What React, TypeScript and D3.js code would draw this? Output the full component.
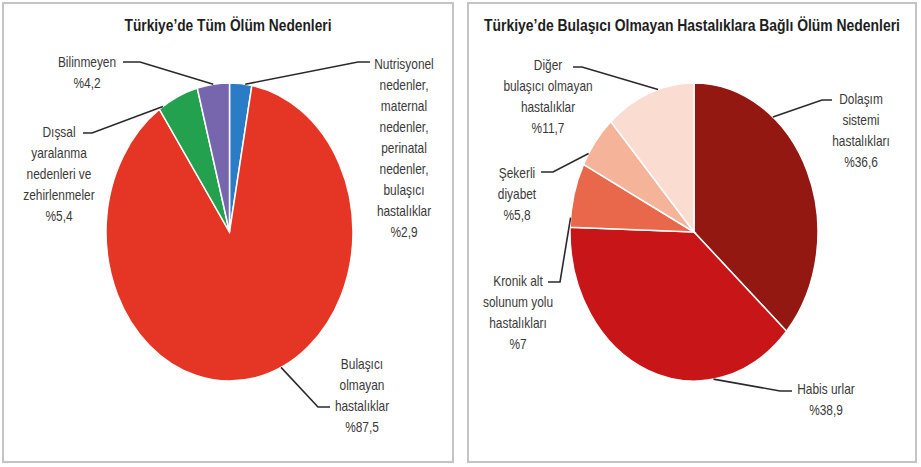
import React from "react";
import * as d3 from "d3";

// left chart: all causes of death (clockwise from 12 o'clock)
const leftCategories = [
  ["Nutrisyonel", "nedenler,", "maternal", "nedenler,", "perinatal", "nedenler,", "bulaşıcı", "hastalıklar"],
  ["Bulaşıcı", "olmayan", "hastalıklar"],
  ["Dışsal", "yaralanma", "nedenleri ve", "zehirlenmeler"],
  ["Bilinmeyen"],
];
const leftValues = [2.9, 87.5, 5.4, 4.2];
const leftValueLabels = ["%2,9", "%87,5", "%5,4", "%4,2"];
const leftColors = ["#2a7cc7", "#e53524", "#24a14e", "#7765ad"];

// right chart: non-communicable diseases
const rightCategories = [
  ["Dolaşım", "sistemi", "hastalıkları"],
  ["Habis urlar"],
  ["Kronik alt", "solunum yolu", "hastalıkları"],
  ["Şekerli", "diyabet"],
  ["Diğer", "bulaşıcı olmayan", "hastalıklar"],
];
const rightValues = [36.6, 38.9, 7, 5.8, 11.7];
const rightValueLabels = ["%36,6", "%38,9", "%7", "%5,8", "%11,7"];
const rightColors = ["#941812", "#c81517", "#e9674a", "#f5b49a", "#fbdcd1"];

const W = 921;
const H = 467;
const font = "'Liberation Sans', Arial, sans-serif";
const squeeze = 0.85; // the original uses a condensed face
const lineGap = 21;

// label placement: text centre x, first line y, where the leader touches the slice (fraction of slice), elbow, tail
type Place = { x: number; y: number; f: number; elbow: [number, number]; tail: [number, number] };

const leftPlaces: Place[] = [
  { x: 404, y: 65, f: 0.7, elbow: [358, 62], tail: [370, 62] },
  { x: 362, y: 365, f: 0.46, elbow: [318, 407], tail: [330, 407] },
  { x: 59, y: 133, f: 0.1, elbow: [92, 133], tail: [83, 133] },
  { x: 87, y: 63, f: 0.5, elbow: [140, 62], tail: [123, 62] },
];
const rightPlaces: Place[] = [
  { x: 861, y: 100, f: 0.3, elbow: [822, 100], tail: [832, 100] },
  { x: 826, y: 390, f: 0.28, elbow: [780, 391], tail: [792, 391] },
  { x: 518, y: 282, f: 0.15, elbow: [560, 282], tail: [548, 282] },
  { x: 517, y: 174, f: 0.23, elbow: [553, 172], tail: [541, 172] },
  { x: 548, y: 66, f: 0.6, elbow: [582, 67], tail: [573, 67] },
];

function Pie(props: {
  title: string;
  titleSqueeze: number;
  frame: [number, number, number, number];
  cx: number;
  cy: number;
  rx: number;
  ry: number;
  categories: string[][];
  values: number[];
  valueLabels: string[];
  colors: string[];
  places: Place[];
}) {
  const { title, titleSqueeze, frame, cx, cy, rx, ry, categories, values, valueLabels, colors, places } = props;
  const arcs = d3.pie<number>().sort(null).value((d) => d)(values);
  const arc = d3.arc<d3.PieArcDatum<number>>().innerRadius(0).outerRadius(rx);
  const onEdge = (a: number): [number, number] => [cx + rx * Math.sin(a), cy - ry * Math.cos(a)];

  return (
    <g>
      <rect x={frame[0]} y={frame[1]} width={frame[2] - frame[0]} height={frame[3] - frame[1]}
        fill="#fff" stroke="#c4c4c4" strokeWidth={2} />
      <text transform={`translate(${(frame[0] + frame[2]) / 2},27) scale(${titleSqueeze},1)`}
        textAnchor="middle" dominantBaseline="middle"
        fontFamily={font} fontWeight="bold" fontSize={16} fill="#1e1e1e">{title}</text>
      <g transform={`translate(${cx},${cy}) scale(1,${ry / rx})`}>
        {arcs.map((a, i) => (
          <path key={i} d={arc(a) || ""} fill={colors[i]} stroke="#fff" strokeWidth={1.5}
            vectorEffect="non-scaling-stroke" />
        ))}
      </g>
      {arcs.map((a, i) => {
        const p = places[i];
        const ang = a.startAngle + p.f * (a.endAngle - a.startAngle);
        const pts = [onEdge(ang), p.elbow, p.tail];
        const lines = [...categories[i], valueLabels[i]];
        return (
          <g key={"l" + i}>
            <path d={d3.line()(pts) || ""} fill="none" stroke="#2a2a2a" strokeWidth={1.6} />
            <text transform={`translate(${p.x},${p.y}) scale(${squeeze},1)`} textAnchor="middle"
              fontFamily={font} fontSize={14} fill="#3a3a3a">
              {lines.map((t, j) => (
                <tspan key={j} x={0} y={j * lineGap} dominantBaseline="middle">{t}</tspan>
              ))}
            </text>
          </g>
        );
      })}
    </g>
  );
}

export default function App() {
  return (
    <svg width={W} height={H} style={{ position: "absolute", left: 0, top: 0, background: "#fff" }}>
      <Pie title="Türkiye’de Tüm Ölüm Nedenleri" titleSqueeze={0.86} frame={[3, 3, 453, 462]}
        cx={229.5} cy={232} rx={123.5} ry={149}
        categories={leftCategories} values={leftValues} valueLabels={leftValueLabels}
        colors={leftColors} places={leftPlaces} />
      <Pie title="Türkiye’de Bulaşıcı Olmayan Hastalıklara Bağlı Ölüm Nedenleri" titleSqueeze={0.87}
        frame={[468, 3, 916, 462]}
        cx={694} cy={232} rx={124} ry={149}
        categories={rightCategories} values={rightValues} valueLabels={rightValueLabels}
        colors={rightColors} places={rightPlaces} />
    </svg>
  );
}
